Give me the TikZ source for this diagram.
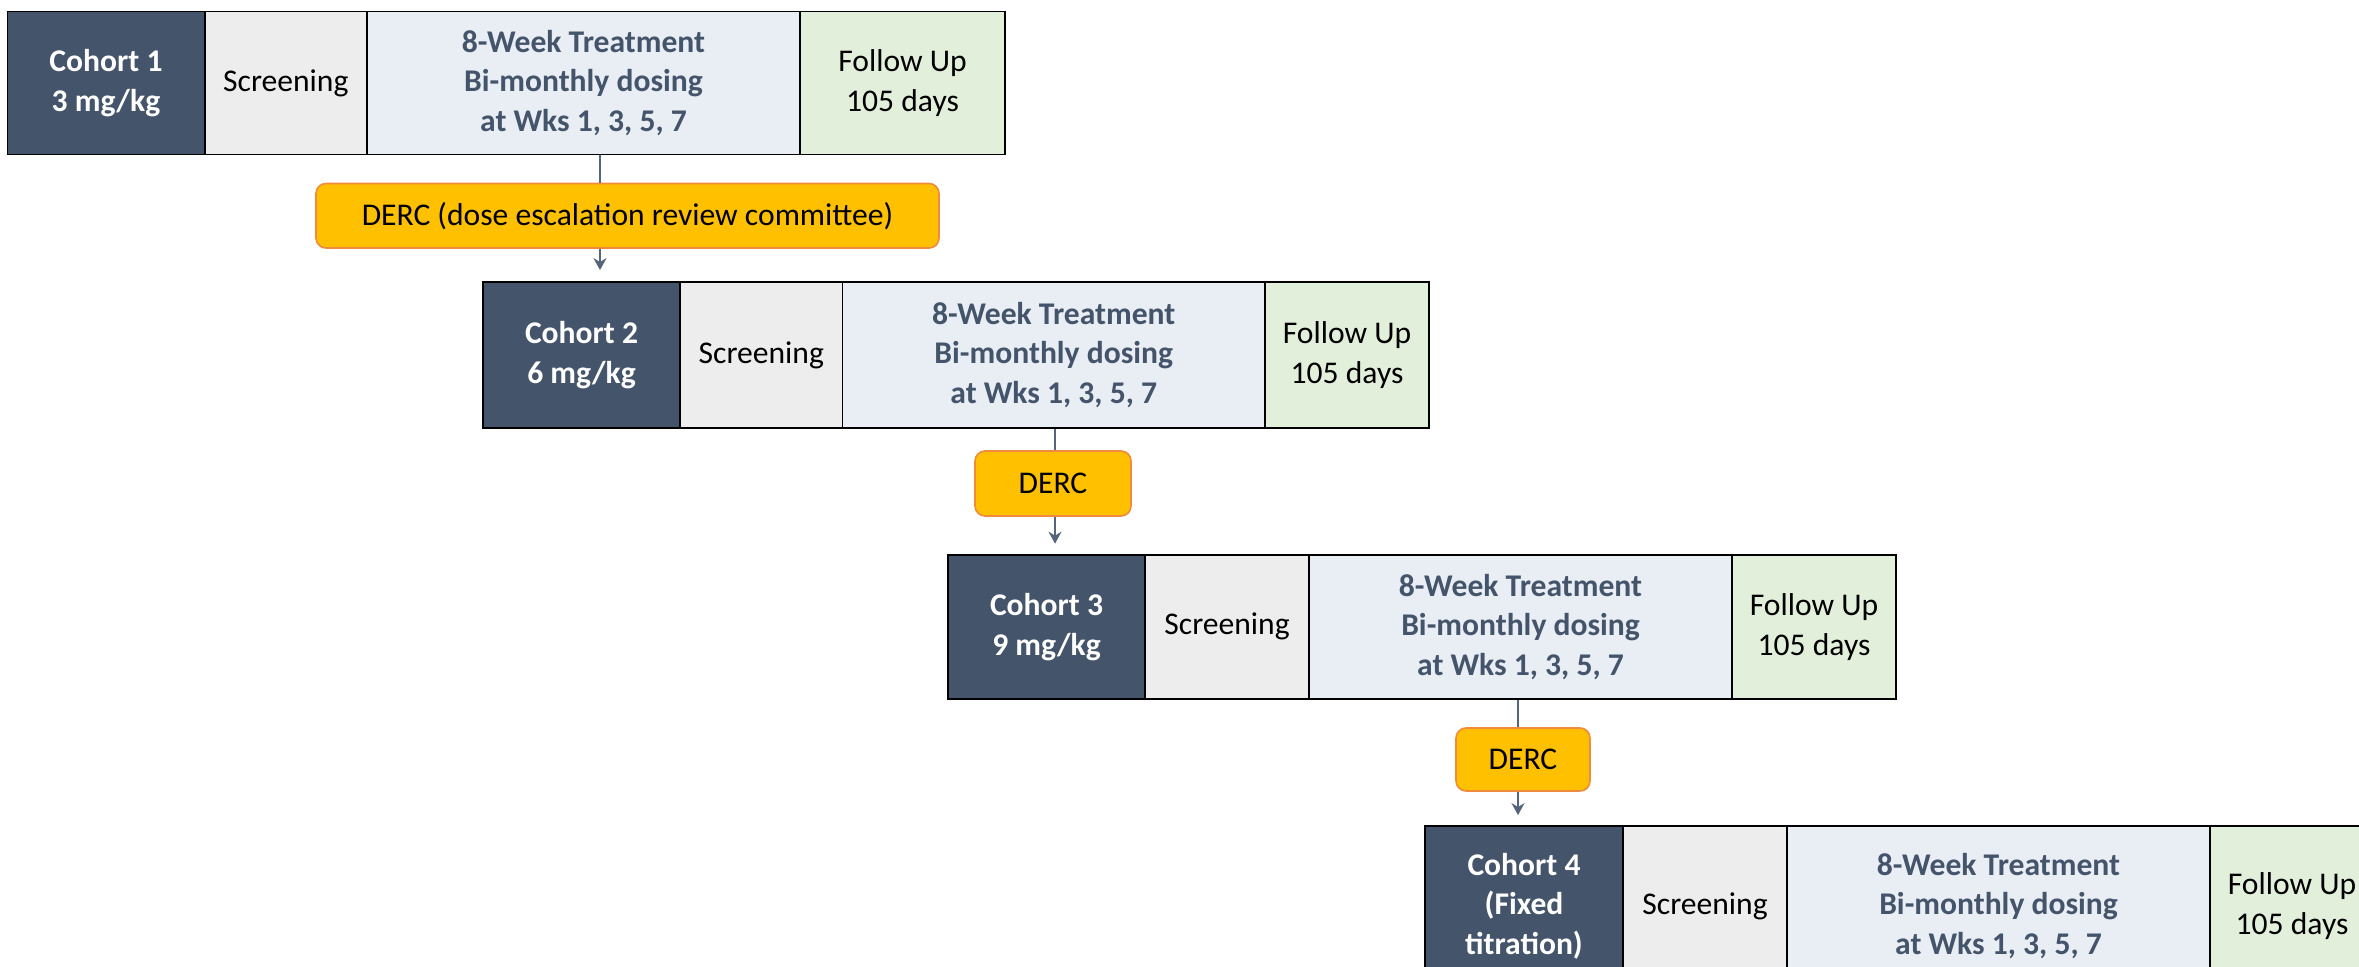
\documentclass[tikz,border=0pt]{standalone}
\usepackage{fontspec}
\setmainfont{Carlito}
\usetikzlibrary{arrows.meta}
\definecolor{cohortfill}{HTML}{44546A}
\definecolor{screenfill}{HTML}{EDEDED}
\definecolor{treatfill}{HTML}{E9EDF4}
\definecolor{treattext}{HTML}{44546A}
\definecolor{followfill}{HTML}{E2EFDA}
\definecolor{dercfill}{HTML}{FFC000}
\definecolor{dercdraw}{HTML}{F08A3C}
\definecolor{connclr}{HTML}{56657C}
\tikzset{
  cell/.style={draw=black, line width=0.9pt, inner sep=0pt, align=center,
    font=\fontsize{15.8}{19.8}\selectfont},
  cohortcell/.style={cell, fill=cohortfill, text=white, font=\fontsize{15.8}{19.8}\selectfont\bfseries},
  screencell/.style={cell, fill=screenfill},
  treatcell/.style={cell, fill=treatfill, text=treattext, font=\fontsize{15.8}{19.8}\selectfont\bfseries},
  followcell/.style={cell, fill=followfill},
  dercbox/.style={draw=dercdraw, line width=0.8pt, fill=dercfill, rounded corners=5pt,
    inner sep=0pt, align=center, font=\fontsize{15.8}{19.8}\selectfont},
  conn/.style={draw=connclr, line width=1pt},
  connarrow/.style={conn, -{Stealth[length=6pt,width=6.5pt]}},
}
\begin{document}
\begin{tikzpicture}[x=0.5pt,y=-0.5pt]
\useasboundingbox (0,0) rectangle (2359,967);
\clip (0,0) rectangle (2359,967);
% Row 1
\node[cohortcell, minimum width=98.5pt, minimum height=71.5pt] (c1) at (106,83) {Cohort 1\\3 mg/kg};
\node[screencell, minimum width=81.2pt, minimum height=71.5pt] (s1) at (285.8,83) {Screening};
\node[treatcell, minimum width=216.5pt, minimum height=71.5pt] (t1) at (583.5,83) {8-Week Treatment\\Bi-monthly dosing\\at Wks 1, 3, 5, 7};
\node[followcell, minimum width=102.5pt, minimum height=71.5pt] (f1) at (902.5,83) {Follow Up\\105 days};
% Row 2
\node[cohortcell, minimum width=98.5pt, minimum height=73pt] (c2) at (581.5,355) {Cohort 2\\6 mg/kg};
\node[screencell, minimum width=81.25pt, minimum height=73pt] (s2) at (761.25,355) {Screening};
\node[treatcell, minimum width=211.25pt, minimum height=73pt] (t2) at (1053.75,355) {8-Week Treatment\\Bi-monthly dosing\\at Wks 1, 3, 5, 7};
\node[followcell, minimum width=82pt, minimum height=73pt] (f2) at (1347,355) {Follow Up\\105 days};
% Row 3
\node[cohortcell, minimum width=98.5pt, minimum height=72.2pt] (c3) at (1046.5,626.8) {Cohort 3\\9 mg/kg};
\node[screencell, minimum width=82pt, minimum height=72.2pt] (s3) at (1227,626.8) {Screening};
\node[treatcell, minimum width=211.5pt, minimum height=72.2pt] (t3) at (1520.5,626.8) {8-Week Treatment\\Bi-monthly dosing\\at Wks 1, 3, 5, 7};
\node[followcell, minimum width=82pt, minimum height=72.2pt] (f3) at (1814,626.8) {Follow Up\\105 days};
% Row 4
\node[cohortcell, minimum width=99pt, minimum height=80pt] (c4) at (1524,906) {Cohort 4\\(Fixed\\titration)};
\node[screencell, minimum width=82pt, minimum height=80pt] (s4) at (1705,906) {Screening};
\node[treatcell, minimum width=211.5pt, minimum height=80pt] (t4) at (1998.5,906) {8-Week Treatment\\Bi-monthly dosing\\at Wks 1, 3, 5, 7};
\node[followcell, minimum width=82pt, minimum height=80pt] (f4) at (2292,906) {Follow Up\\105 days};
% DERC boxes
\node[dercbox, minimum width=311.5pt, minimum height=32.25pt] (d1) at (627.5,215.75) {DERC (dose escalation review committee)};
\node[dercbox, minimum width=78pt, minimum height=32.5pt] (d2) at (1053,483.5) {DERC};
\node[dercbox, minimum width=67pt, minimum height=31.5pt] (d3) at (1523,759.5) {DERC};
% connector x positions
\coordinate (k1) at (600,0);
\coordinate (k2) at (1055,0);
\coordinate (k3) at (1518,0);
% connectors
\draw[conn] (t1.south -| k1) -- (d1.north -| k1);
\draw[connarrow, shorten >=5.5pt] (d1.south -| k1) -- (c2.north -| k1);
\draw[conn] (t2.south -| k2) -- (d2.north -| k2);
\draw[connarrow, shorten >=5pt] (d2.south -| k2) -- (c3.north -| k2);
\draw[conn] (t3.south -| k3) -- (d3.north -| k3);
\draw[connarrow, shorten >=5pt] (d3.south -| k3) -- (c4.north -| k3);
\end{tikzpicture}
\end{document}
